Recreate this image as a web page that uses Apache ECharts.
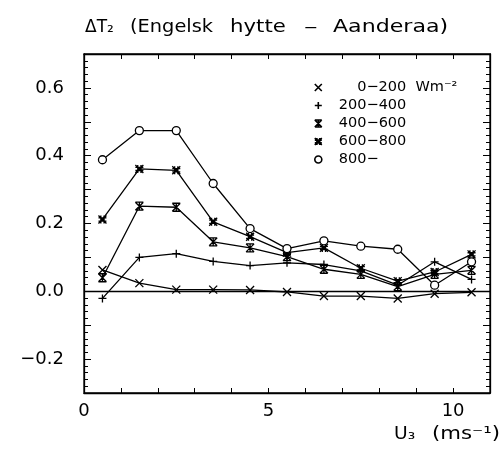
<!DOCTYPE html>
<html>
<head>
<meta charset="utf-8">
<script src="https://cdn.jsdelivr.net/npm/echarts@6/dist/echarts.min.js"></script>
<style>html,body{margin:0;padding:0;background:#fff}#c{width:504px;height:449px}</style>
</head>
<body>
<div id="c"></div>
<script>
const xValues = [0.5, 1.5, 2.5, 3.5, 4.5, 5.5, 6.5, 7.5, 8.5, 9.5, 10.5];
const seriesNames = ['0\u2212200', '200\u2212400', '400\u2212600', '600\u2212800', '800\u2212'];
const s0_200 = [0.063, 0.024, 0.005, 0.005, 0.004, -0.002, -0.014, -0.014, -0.021, -0.007, -0.003];
const s200_400 = [-0.021, 0.100, 0.111, 0.088, 0.076, 0.084, 0.079, 0.060, 0.018, 0.087, 0.035];
const s400_600 = [0.040, 0.251, 0.248, 0.146, 0.128, 0.102, 0.065, 0.050, 0.014, 0.050, 0.062];
const s600_800 = [0.212, 0.361, 0.357, 0.205, 0.161, 0.114, 0.128, 0.068, 0.030, 0.057, 0.109];
const s800 = [0.388, 0.474, 0.474, 0.318, 0.185, 0.126, 0.149, 0.133, 0.124, 0.018, 0.087];
const yTickLabels = [-0.2, 0.0, 0.2, 0.4, 0.6];
const xTickLabels = [0, 5, 10];
const titleParts = ['\u0394T\u2082', '(Engelsk', 'hytte', '\u2013', 'Aanderaa)'];
const xAxisTitle = ['U\u2083', '(ms\u207B\u00B9)'];

const FONT = 'DejaVu Sans';
const symbols = [
  'path://M0,0L10,10M10,0L0,10',
  'path://M5,0L5,10M0,5L10,5',
  'path://M0,0L10,10M10,0L0,10M0,0L10,0M0,10L10,10M5,0L5,10',
  'path://M3,0L3,10M7,0L7,10M0,3L10,3M0,7L10,7M0,0L10,10M10,0L0,10',
  'circle'
];
const allData = [s0_200, s200_400, s400_600, s600_800, s800];

const series = allData.map((arr, i) => ({
  name: seriesNames[i],
  type: 'line',
  data: arr.map((v, j) => [xValues[j], v]),
  symbol: symbols[i],
  symbolSize: 8,
  showSymbol: true,
  lineStyle: {color: '#000', width: 1.3},
  itemStyle: {color: '#fff', borderColor: '#000', borderWidth: 1.3},
  z: 3 + i,
  animation: false
}));
series.push({
  type: 'line', data: [], silent: true,
  markLine: {
    silent: true, symbol: 'none', animation: false, label: {show: false},
    lineStyle: {color: '#000', width: 1.3, type: 'solid'},
    data: [{yAxis: 0}]
  }
});

// title pieces: [left x, scaleX]
const titleLayout = [[85, 1.0], [130, 1.14], [230, 1.25], [304, 1.6], [333, 1.3]];
const graphics = titleParts.map((t, i) => ({
  type: 'text', x: titleLayout[i][0], y: 19, scaleX: titleLayout[i][1],
  style: {text: t, font: '17px "DejaVu Sans"', fill: '#000'}
}));
const xNameLayout = [[394, 1.1], [432, 1.25]];
xAxisTitle.forEach((t, i) => graphics.push({
  type: 'text', x: xNameLayout[i][0], y: 426, scaleX: xNameLayout[i][1],
  style: {text: t, font: '17px "DejaVu Sans"', fill: '#000'}
}));

const chart = echarts.init(document.getElementById('c'), null, {renderer: 'canvas'});
const tickCommon = {inside: true, lineStyle: {color: '#000', width: 1}};
chart.setOption({
  animation: false,
  backgroundColor: '#fff',
  textStyle: {fontFamily: FONT, color: '#000'},
  grid: {left: 84, right: 14, top: 54, bottom: 56, show: true, borderColor: '#000', borderWidth: 1.3, backgroundColor: 'transparent'},
  xAxis: [{
    type: 'value', min: 0, max: 11, interval: 1, position: 'bottom',
    axisLine: {show: true, onZero: false, lineStyle: {color: '#000', width: 1.3}},
    axisTick: Object.assign({length: 5}, tickCommon),
    splitLine: {show: false},
    axisLabel: {
      color: '#000', fontFamily: FONT, fontSize: 18, margin: 9,
      formatter: v => xTickLabels.indexOf(v) >= 0 ? String(v) : ''
    }
  }, {
    type: 'value', min: 0, max: 11, interval: 1, position: 'top',
    axisLine: {show: true, onZero: false, lineStyle: {color: '#000', width: 1.3}},
    axisTick: Object.assign({length: 5}, tickCommon),
    splitLine: {show: false}, axisLabel: {show: false}
  }],
  yAxis: [{
    type: 'value', min: -0.3, max: 0.7, interval: 0.1, position: 'left',
    axisLine: {show: true, onZero: false, lineStyle: {color: '#000', width: 1.3}},
    axisTick: Object.assign({length: 7}, tickCommon),
    minorTick: {show: true, splitNumber: 5, length: 4, lineStyle: {color: '#000', width: 1}},
    splitLine: {show: false},
    axisLabel: {
      color: '#000', fontFamily: FONT, fontSize: 18, margin: 20,
      formatter: v => {
        const r = Math.round(v * 10) / 10;
        if (!yTickLabels.some(t => Math.abs(t - r) < 1e-9)) return '';
        return (r < 0 ? '\u2212' : '') + Math.abs(r).toFixed(1);
      }
    }
  }, {
    type: 'value', min: -0.3, max: 0.7, interval: 0.1, position: 'right',
    axisLine: {show: true, onZero: false, lineStyle: {color: '#000', width: 1.3}},
    axisTick: Object.assign({length: 7}, tickCommon),
    minorTick: {show: true, splitNumber: 5, length: 4, lineStyle: {color: '#000', width: 1}},
    splitLine: {show: false}, axisLabel: {show: false}
  }],
  legend: {
    orient: 'vertical', left: 309, top: 75, itemWidth: 7, itemHeight: 7, itemGap: 3,
    data: seriesNames.map((n, i) => ({name: n, icon: symbols[i]})),
    itemStyle: {color: '#fff', borderColor: '#000', borderWidth: 1.6},
    textStyle: {fontFamily: FONT, fontSize: 14.5, color: '#000', padding: [0, 0, 0, 12]},
    formatter: n => n === seriesNames[0] ? '    ' + n + '  Wm\u207B\u00B2' : n,
    selectedMode: false
  },
  graphic: graphics,
  series: series
});
</script>
</body>
</html>
